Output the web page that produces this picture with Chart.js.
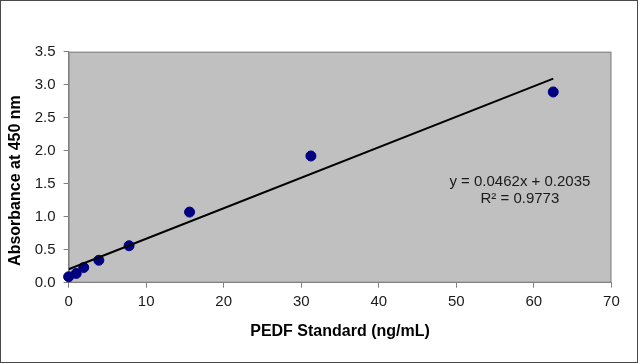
<!DOCTYPE html>
<html>
<head>
<meta charset="utf-8">
<script src="https://cdn.jsdelivr.net/npm/chart.js@4/dist/chart.umd.min.js"></script>
<style>
  body { margin: 0; background: #fff; }
  #frame { width: 636px; height: 361px; border: 1px solid #4a4a4a; background: #fff; }
</style>
</head>
<body>
<div id="frame"><canvas id="myCanvas" width="636" height="361"></canvas></div>
<script>
// standard curve readings
var conc = [0, 0.98, 1.95, 3.9, 7.8, 15.6, 31.25, 62.5];
var absorb = [0.09, 0.14, 0.23, 0.34, 0.56, 1.07, 1.92, 2.89];

// linear trendline end points (from the fit shown on the chart)
var trendX = [0, 62.5];
var trendY = [0.2035, 3.091];

var eqLines = ['y = 0.0462x + 0.2035', 'R\u00B2 = 0.9773'];

var xTicks = [0, 10, 20, 30, 40, 50, 60, 70];
var yTicks = [0, 0.5, 1, 1.5, 2, 2.5, 3, 3.5];

Chart.defaults.font.family = "'Liberation Sans', Arial, sans-serif";
Chart.defaults.color = '#1a1a1a';

var points = [];
for (var i = 0; i < conc.length; i++) {
    points.push({x: conc[i], y: absorb[i]});
}
var trend = [];
for (var i = 0; i < trendX.length; i++) {
    trend.push({x: trendX[i], y: trendY[i]});
}

// gray plot area with border
var plotBg = {
    id: 'plotBg',
    beforeDraw: function(chart) {
        var a = chart.chartArea;
        var ctx = chart.ctx;
        ctx.save();
        ctx.fillStyle = '#c0c0c0';
        ctx.fillRect(a.left, a.top, a.right - a.left, a.bottom - a.top);
        ctx.strokeStyle = '#808080';
        ctx.lineWidth = 1;
        ctx.strokeRect(a.left + 0.5, a.top + 0.5, a.right - a.left - 1, a.bottom - a.top - 1);
        ctx.restore();
    }
};

// equation label
var eqLabel = {
    id: 'eqLabel',
    afterDatasetsDraw: function(chart) {
        var ctx = chart.ctx;
        var xs = chart.scales.x, ys = chart.scales.y;
        var cx = xs.getPixelForValue(58.2);
        ctx.save();
        ctx.font = '15px "Liberation Sans", Arial, sans-serif';
        ctx.fillStyle = '#1a1a1a';
        ctx.textAlign = 'center';
        ctx.textBaseline = 'middle';
        ctx.fillText(eqLines[0], cx, ys.getPixelForValue(1.53));
        ctx.fillText(eqLines[1], cx, ys.getPixelForValue(1.27));
        ctx.restore();
    }
};

var myChart = new Chart(document.getElementById('myCanvas'), {
    type: 'scatter',
    data: {
        datasets: [
            {
                data: trend,
                type: 'line',
                showLine: true,
                borderColor: '#000',
                borderWidth: 2,
                pointRadius: 0,
                fill: false
            },
            {
                data: points,
                backgroundColor: '#000080',
                borderColor: '#000080',
                pointRadius: 5,
                clip: false
            }
        ]
    },
    options: {
        responsive: false,
        animation: false,
        layout: { padding: { left: 0, top: 50.7, right: 25.6, bottom: 0 } },
        plugins: {
            legend: { display: false },
            tooltip: { enabled: false }
        },
        scales: {
            x: {
                type: 'linear',
                min: 0, max: 70,
                afterBuildTicks: function(s) { s.ticks = xTicks.map(function(v) { return {value: v}; }); },
                afterFit: function(s) { s.height = 79.3; },
                grid: { drawOnChartArea: false, tickLength: 5, color: '#808080' },
                border: { color: '#808080' },
                ticks: { font: { size: 15 }, padding: 5, color: '#1a1a1a' },
                title: {
                    display: true,
                    text: 'PEDF Standard (ng/mL)',
                    color: '#000',
                    font: { size: 16, weight: 'bold' },
                    padding: { top: 0, bottom: 20.5 }
                }
            },
            y: {
                min: 0, max: 3.5,
                afterBuildTicks: function(s) { s.ticks = yTicks.map(function(v) { return {value: v}; }); },
                afterFit: function(s) { s.width = 67.6; },
                grid: { drawOnChartArea: false, tickLength: 5, color: '#808080' },
                border: { color: '#808080' },
                ticks: {
                    font: { size: 15 },
                    padding: 8,
                    color: '#1a1a1a',
                    callback: function(v) { return v.toFixed(1); }
                },
                title: {
                    display: true,
                    text: 'Absorbance at 450 nm      ',
                    color: '#000',
                    font: { size: 16, weight: 'bold' },
                    padding: { top: 5.4, bottom: 0 }
                }
            }
        }
    },
    plugins: [plotBg, eqLabel]
});
</script>
</body>
</html>
